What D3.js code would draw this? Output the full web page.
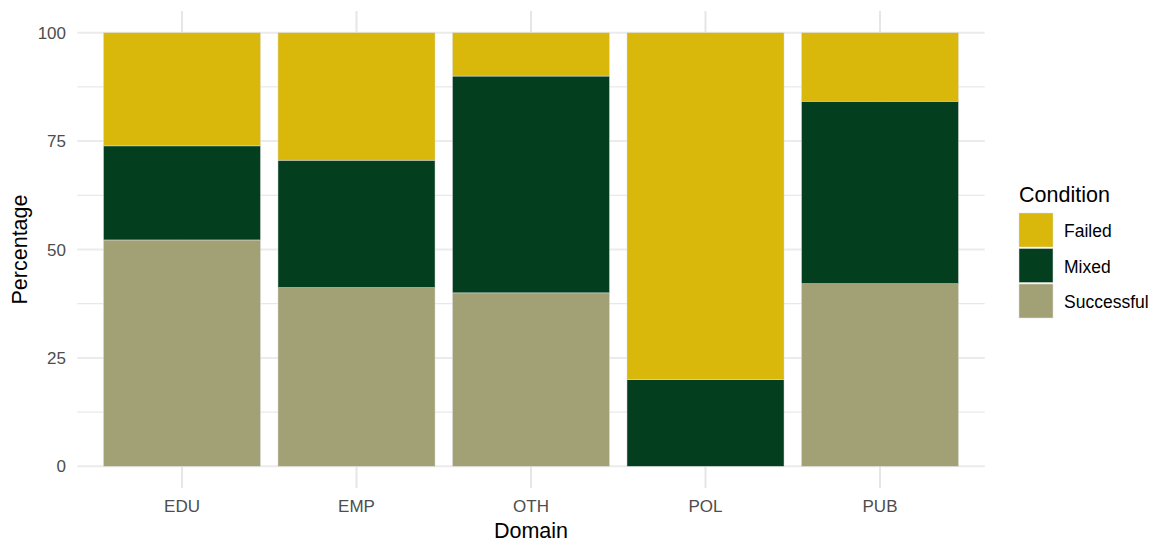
<!DOCTYPE html>
<html>
<head>
<meta charset="utf-8">
<script src="https://cdn.jsdelivr.net/npm/d3@7"></script>
<style>
  body { margin: 0; background: #fff; }
  text { font-family: "Liberation Sans", Arial, sans-serif; }
</style>
</head>
<body>
<div id="chart"></div>
<script>
const domains = ['EDU', 'EMP', 'OTH', 'POL', 'PUB'];
const conditions = ['Failed', 'Mixed', 'Successful'];
const successful = [52.2, 41.2, 40, 0, 42.1];
const mixed = [21.7, 29.4, 50, 20, 42.1];
const failed = [26.1, 29.4, 10, 80, 15.8];
const yTicks = [0, 25, 50, 75, 100];
const colors = ['#d9b70b', '#033f1e', '#a2a175'];

const width = 1160, height = 545;
const panel = {left: 77.3, right: 984.7, top: 11, bottom: 488};

const rows = domains.map((d, i) => ({
  domain: d, Successful: successful[i], Mixed: mixed[i], Failed: failed[i]
}));

// stack bottom to top: Successful, Mixed, Failed
const stack = d3.stack().keys(['Successful', 'Mixed', 'Failed'])(rows);

const svg = d3.select('#chart').append('svg')
  .attr('width', width).attr('height', height);

const x = d3.scaleBand().domain(domains)
  .range([panel.left, panel.right])
  .paddingInner(0.1).paddingOuter(0.15);
const y = d3.scaleLinear().domain([-5, 105]).range([panel.bottom, panel.top]);
const color = d3.scaleOrdinal().domain(conditions).range(colors);

// minor grid
const minor = [12.5, 37.5, 62.5, 87.5];
svg.append('g').selectAll('line').data(minor).enter().append('line')
  .attr('x1', panel.left).attr('x2', panel.right)
  .attr('y1', d => y(d)).attr('y2', d => y(d))
  .attr('stroke', '#e3e3e3').attr('stroke-width', 1);

// major grid
svg.append('g').selectAll('line').data(yTicks).enter().append('line')
  .attr('x1', panel.left).attr('x2', panel.right)
  .attr('y1', d => y(d)).attr('y2', d => y(d))
  .attr('stroke', '#ebebeb').attr('stroke-width', 2);
svg.append('g').selectAll('line').data(domains).enter().append('line')
  .attr('x1', d => x(d) + x.bandwidth() / 2).attr('x2', d => x(d) + x.bandwidth() / 2)
  .attr('y1', panel.top).attr('y2', panel.bottom)
  .attr('stroke', '#e6e6e6').attr('stroke-width', 2);

// bars
svg.append('g').selectAll('g').data(stack).enter().append('g')
  .attr('fill', s => color(s.key))
  .selectAll('rect').data(s => s).enter().append('rect')
    .attr('x', d => x(d.data.domain))
    .attr('width', x.bandwidth())
    .attr('y', d => y(d[1]))
    .attr('height', d => y(d[0]) - y(d[1]))
    .attr('stroke', '#e0e0e0').attr('stroke-width', 0.5);

// y axis labels
svg.append('g').selectAll('text').data(yTicks).enter().append('text')
  .attr('x', 66).attr('y', d => y(d)).attr('dy', '0.36em')
  .attr('text-anchor', 'end').attr('font-size', 17).attr('fill', '#4d4d4d')
  .text(d => d);

// x axis labels
svg.append('g').selectAll('text').data(domains).enter().append('text')
  .attr('x', d => x(d) + x.bandwidth() / 2).attr('y', 512)
  .attr('text-anchor', 'middle').attr('font-size', 17).attr('fill', '#4d4d4d')
  .text(d => d);

// axis titles
svg.append('text')
  .attr('x', (panel.left + panel.right) / 2).attr('y', 538)
  .attr('text-anchor', 'middle').attr('font-size', 21.5).attr('fill', '#000')
  .text('Domain');
svg.append('text')
  .attr('transform', `translate(27, ${(panel.top + panel.bottom) / 2}) rotate(-90)`)
  .attr('text-anchor', 'middle').attr('font-size', 21.5).attr('fill', '#000')
  .text('Percentage');

// legend
const legend = svg.append('g').attr('transform', 'translate(1019, 0)');
legend.append('text').attr('x', 0).attr('y', 202)
  .attr('font-size', 21.5).attr('fill', '#000').text('Condition');
const item = legend.selectAll('g.item').data(conditions).enter().append('g')
  .attr('class', 'item')
  .attr('transform', (d, i) => `translate(0, ${213 + i * 35.5})`);
item.append('rect').attr('width', 34).attr('height', 34)
  .attr('fill', d => color(d)).attr('stroke', '#e0e0e0').attr('stroke-width', 0.5);
item.append('text').attr('x', 45).attr('y', 18).attr('dy', '0.35em')
  .attr('font-size', 17.5).attr('fill', '#000').text(d => d);
</script>
</body>
</html>
